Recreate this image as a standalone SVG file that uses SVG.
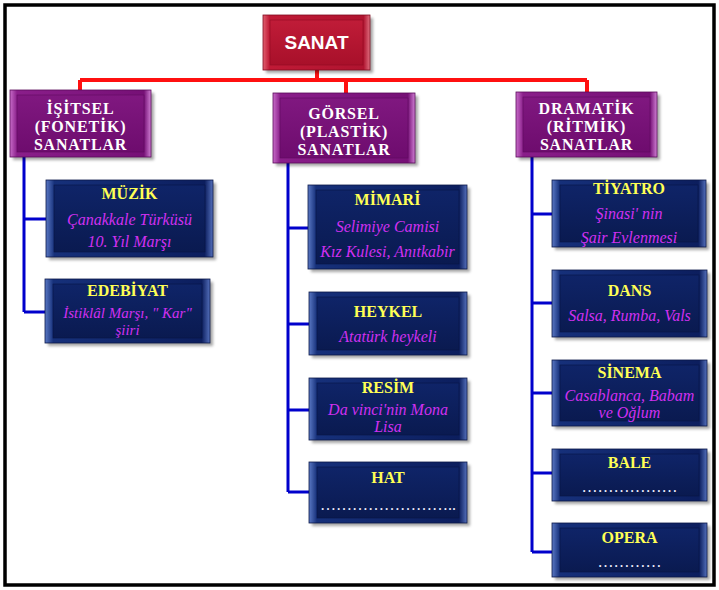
<svg xmlns="http://www.w3.org/2000/svg" width="719" height="590" viewBox="0 0 719 590">
<defs>
<filter id="blur" x="-10%" y="-10%" width="120%" height="130%"><feGaussianBlur stdDeviation="1.5"/></filter>
<linearGradient id="gNavyO" x1="0" y1="0" x2="1" y2="0">
<stop offset="0" stop-color="#5a78c4"/><stop offset="0.05" stop-color="#16307a"/><stop offset="0.95" stop-color="#0c1e5e"/><stop offset="1" stop-color="#5470bc"/>
</linearGradient>
<linearGradient id="gNavyI" x1="0" y1="0" x2="0" y2="1">
<stop offset="0" stop-color="#0f2468"/><stop offset="1" stop-color="#0a1a50"/>
</linearGradient>
<linearGradient id="gPurO" x1="0" y1="0" x2="1" y2="0">
<stop offset="0" stop-color="#c76cc8"/><stop offset="0.05" stop-color="#8a1e8a"/><stop offset="0.95" stop-color="#761076"/><stop offset="1" stop-color="#d080d4"/>
</linearGradient>
<linearGradient id="gPurI" x1="0" y1="0" x2="0" y2="1">
<stop offset="0" stop-color="#801880"/><stop offset="1" stop-color="#6e0c6e"/>
</linearGradient>
<linearGradient id="gRedO" x1="0" y1="0" x2="1" y2="0">
<stop offset="0" stop-color="#e06070"/><stop offset="0.06" stop-color="#c01a36"/><stop offset="0.94" stop-color="#b01430"/><stop offset="1" stop-color="#e07080"/>
</linearGradient>
<linearGradient id="gRedI" x1="0" y1="0" x2="0" y2="1">
<stop offset="0" stop-color="#c01c38"/><stop offset="1" stop-color="#a8102a"/>
</linearGradient>
<style>
.sh{fill:#000;opacity:.35;filter:url(#blur)}
.no{fill:url(#gNavyO);stroke:#0a1848;stroke-width:.8}
.ni{fill:url(#gNavyI);stroke:#081645;stroke-width:.6}
.po{fill:url(#gPurO);stroke:#5a0a5a;stroke-width:.8}
.pi{fill:url(#gPurI);stroke:#600a60;stroke-width:.6}
.ro{fill:url(#gRedO);stroke:#800a20;stroke-width:.8}
.ri{fill:url(#gRedI);stroke:#900c24;stroke-width:.6}
text{text-anchor:middle}
.t1{font-family:"Liberation Sans",Arial,sans-serif;font-weight:bold;font-size:19px;fill:#fff}
.t2{font-family:"Liberation Serif","Times New Roman",serif;font-weight:bold;font-size:16px;letter-spacing:0.8px;fill:#fff}
.t3{font-family:"Liberation Serif","Times New Roman",serif;font-weight:bold;font-size:16px;fill:#ffff55}
.d{font-family:"Liberation Serif","Times New Roman",serif;font-style:italic;font-size:16px;fill:#d030f0}
.ds{font-size:15px}
.dots{font-family:"Liberation Serif","Times New Roman",serif;font-size:16px;fill:#f0f0ff}
.red{stroke:#ff1010;stroke-width:4;fill:none}
.blue{stroke:#0000cc;stroke-width:3;fill:none}
</style>
</defs>
<rect x="0" y="0" width="719" height="590" fill="#fff"/>
<rect x="5" y="5" width="709" height="580" fill="none" stroke="#000" stroke-width="3.5"/>

<g id="connectors">
<path class="red" d="M317 70V80M80 80H587M80 80V90M346 80V93M587 80V92"/>
<path class="blue" d="M24 157V312M24 219H46M24 312H46"/>
<path class="blue" d="M288 163V492M288 228H309M288 324H309M288 410H309M288 492H309"/>
<path class="blue" d="M532 157V552M532 214H552M532 303H552M532 393H552M532 473H552M532 552H552"/>
</g>

<g id="sanat">
<rect class="sh" x="266" y="18" width="107" height="55"/>
<rect class="ro" x="263" y="15" width="107" height="55"/>
<rect class="ri" x="270" y="20" width="93" height="45"/>
<text class="t1" x="316.5" y="49">SANAT</text>
</g>

<g id="isitsel">
<rect class="sh" x="13" y="93" width="141" height="67"/>
<rect class="po" x="10" y="90" width="141" height="67"/>
<rect class="pi" x="17" y="95" width="127" height="57"/>
<text class="t2" x="80.5" y="114">İŞİTSEL</text>
<text class="t2" x="80.5" y="132">(FONETİK)</text>
<text class="t2" x="80.5" y="150">SANATLAR</text>
</g>

<g id="gorsel">
<rect class="sh" x="276" y="96" width="142" height="70"/>
<rect class="po" x="273" y="93" width="142" height="70"/>
<rect class="pi" x="280" y="98" width="128" height="60"/>
<text class="t2" x="344" y="119">GÖRSEL</text>
<text class="t2" x="344" y="137">(PLASTİK)</text>
<text class="t2" x="344" y="155">SANATLAR</text>
</g>

<g id="dramatik">
<rect class="sh" x="519" y="95" width="141" height="65"/>
<rect class="po" x="516" y="92" width="141" height="65"/>
<rect class="pi" x="523" y="97" width="127" height="55"/>
<text class="t2" x="586.5" y="114">DRAMATİK</text>
<text class="t2" x="586.5" y="132">(RİTMİK)</text>
<text class="t2" x="586.5" y="150">SANATLAR</text>
</g>

<g id="muzik">
<rect class="sh" x="49" y="183" width="167" height="77"/>
<rect class="no" x="46" y="180" width="167" height="77"/>
<rect class="ni" x="54" y="185" width="151" height="67"/>
<text class="t3" x="129.5" y="199">MÜZİK</text>
<text class="d" x="129.5" y="225">Çanakkale Türküsü</text>
<text class="d" x="129.5" y="247">10. Yıl Marşı</text>
</g>

<g id="edebiyat">
<rect class="sh" x="48" y="282" width="165" height="64"/>
<rect class="no" x="45" y="279" width="165" height="64"/>
<rect class="ni" x="53" y="284" width="149" height="54"/>
<text class="t3" x="127.5" y="296">EDEBİYAT</text>
<text class="d ds" x="127.5" y="318">İstiklâl Marşı, " Kar"</text>
<text class="d ds" x="127.5" y="335">şiiri</text>
</g>

<g id="mimari">
<rect class="sh" x="311" y="188" width="159" height="84"/>
<rect class="no" x="308" y="185" width="159" height="84"/>
<rect class="ni" x="316" y="190" width="143" height="74"/>
<text class="t3" x="387.5" y="205">MİMARİ</text>
<text class="d" x="387.5" y="232">Selimiye Camisi</text>
<text class="d" x="387.5" y="257">Kız Kulesi, Anıtkabir</text>
</g>

<g id="heykel">
<rect class="sh" x="312" y="295" width="158" height="63"/>
<rect class="no" x="309" y="292" width="158" height="63"/>
<rect class="ni" x="317" y="297" width="142" height="53"/>
<text class="t3" x="388" y="317">HEYKEL</text>
<text class="d" x="388" y="342">Atatürk heykeli</text>
</g>

<g id="resim">
<rect class="sh" x="312" y="381" width="158" height="62"/>
<rect class="no" x="309" y="378" width="158" height="62"/>
<rect class="ni" x="317" y="383" width="142" height="52"/>
<text class="t3" x="388" y="393">RESİM</text>
<text class="d" x="388" y="415">Da vinci'nin Mona</text>
<text class="d" x="388" y="432">Lisa</text>
</g>

<g id="hat">
<rect class="sh" x="312" y="465" width="158" height="61"/>
<rect class="no" x="309" y="462" width="158" height="61"/>
<rect class="ni" x="317" y="467" width="142" height="51"/>
<text class="t3" x="388" y="483">HAT</text>
<text class="dots" x="388" y="510">……………………..</text>
</g>

<g id="tiyatro">
<rect class="sh" x="555" y="183" width="154" height="67"/>
<rect class="no" x="552" y="180" width="154" height="67"/>
<rect class="ni" x="560" y="185" width="138" height="57"/>
<text class="t3" x="629" y="194">TİYATRO</text>
<text class="d" x="629" y="219">Şinasi' nin</text>
<text class="d" x="629" y="243">Şair Evlenmesi</text>
</g>

<g id="dans">
<rect class="sh" x="555" y="273" width="155" height="67"/>
<rect class="no" x="552" y="270" width="155" height="67"/>
<rect class="ni" x="560" y="275" width="139" height="57"/>
<text class="t3" x="629.5" y="296">DANS</text>
<text class="d" x="629.5" y="321">Salsa, Rumba, Vals</text>
</g>

<g id="sinema">
<rect class="sh" x="555" y="363" width="155" height="66"/>
<rect class="no" x="552" y="360" width="155" height="66"/>
<rect class="ni" x="560" y="365" width="139" height="56"/>
<text class="t3" x="629.5" y="378">SİNEMA</text>
<text class="d" x="629.5" y="401">Casablanca, Babam</text>
<text class="d" x="629.5" y="418">ve Oğlum</text>
</g>

<g id="bale">
<rect class="sh" x="555" y="452" width="155" height="52"/>
<rect class="no" x="552" y="449" width="155" height="52"/>
<rect class="ni" x="560" y="454" width="139" height="42"/>
<text class="t3" x="629.5" y="468">BALE</text>
<text class="dots" x="629.5" y="492">………………</text>
</g>

<g id="opera">
<rect class="sh" x="555" y="526" width="155" height="54"/>
<rect class="no" x="552" y="523" width="155" height="54"/>
<rect class="ni" x="560" y="528" width="139" height="44"/>
<text class="t3" x="629.5" y="543">OPERA</text>
<text class="dots" x="629.5" y="567">…………</text>
</g>
</svg>
